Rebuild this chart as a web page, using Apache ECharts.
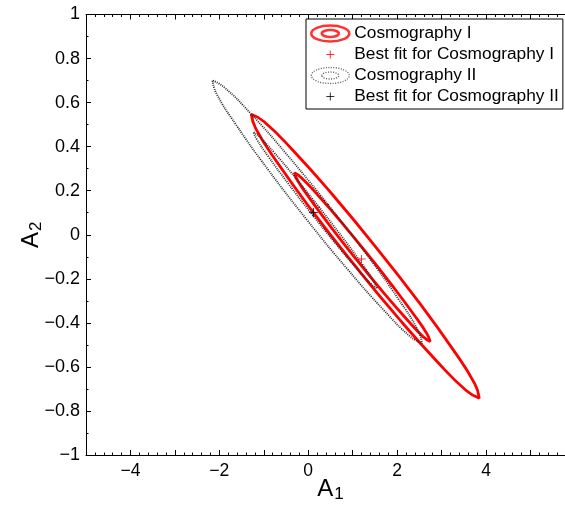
<!DOCTYPE html>
<html><head><meta charset="utf-8">
<script src="https://cdn.jsdelivr.net/npm/echarts@6/dist/echarts.min.js"></script>
<style>html,body{margin:0;padding:0;background:#fff}#c{width:565px;height:510px}</style>
</head><body><div id="c"></div>
<script>
// ---- tick labels ----
const xTickValues = [-4, -2, 0, 2, 4];
const xTickLabels = ['\u22124', '\u22122', '0', '2', '4'];
const yTickValues = [-1, -0.8, -0.6, -0.4, -0.2, 0, 0.2, 0.4, 0.6, 0.8, 1];
const yTickLabels = ['\u22121', '\u22120.8', '\u22120.6', '\u22120.4', '\u22120.2', '0', '0.2', '0.4', '0.6', '0.8', '1'];

// ---- contours [A1, A2] ----
const cosmoIOuter = [
  [1.530, -0.058], [0.529, 0.186], [-0.356, 0.386], [-0.992, 0.513], [-1.281, 0.547],
  [-1.180, 0.482], [-0.703, 0.330], [0.075, 0.112], [1.039, -0.137], [2.039, -0.381],
  [2.924, -0.581], [3.560, -0.708], [3.849, -0.742], [3.748, -0.677], [3.271, -0.525],
  [2.493, -0.307], [1.530, -0.058]
];
const cosmoIInner = [
  [1.322, -0.085], [0.729, 0.061], [0.211, 0.181], [-0.155, 0.259], [-0.312, 0.281],
  [-0.237, 0.245], [0.061, 0.157], [0.533, 0.029], [1.110, -0.119], [1.703, -0.265],
  [2.221, -0.385], [2.587, -0.463], [2.744, -0.485], [2.669, -0.449], [2.371, -0.361],
  [1.899, -0.233], [1.322, -0.085]
];
const cosmoIIOuter = [
  [0.433, 0.140], [-0.488, 0.366], [-1.302, 0.552], [-1.888, 0.669], [-2.155, 0.701],
  [-2.064, 0.641], [-1.626, 0.500], [-0.912, 0.298], [-0.027, 0.067], [0.894, -0.159],
  [1.708, -0.344], [2.294, -0.462], [2.561, -0.493], [2.470, -0.434], [2.032, -0.293],
  [1.318, -0.091], [0.433, 0.140]
];
const cosmoIIInner = [
  [0.246, 0.125], [-0.293, 0.260], [-0.763, 0.372], [-1.092, 0.444], [-1.232, 0.466],
  [-1.160, 0.434], [-0.887, 0.352], [-0.455, 0.234], [0.070, 0.097], [0.609, -0.038],
  [1.079, -0.150], [1.408, -0.222], [1.548, -0.244], [1.476, -0.212], [1.203, -0.130],
  [0.771, -0.012], [0.246, 0.125]
];
const bestFitI = [[1.199, -0.110]];
const bestFitII = [[0.115, 0.101]];

const names = ['Cosmography I', 'Best fit for Cosmography I', 'Cosmography II', 'Best fit for Cosmography II'];

// ---- styling ----
const FONT = "'Liberation Sans', Arial, Helvetica, sans-serif";
const RED = '#ff0000';
const GRAY = '#2a2a2a';
const plusPath = 'path://M0,5L10,5M5,0L5,10';
const legendPlus = 'path://M0,0L0,0M38,16L38,16M15,8L23,8M19,4L19,12';
const legendEllipses = 'path://M0,8A19,8 0 1 1 38,8A19,8 0 1 1 0,8ZM10.5,8A8.5,3.5 0 1 1 27.5,8A8.5,3.5 0 1 1 10.5,8Z';

const xMap = {}; xTickValues.forEach((v, i) => { xMap[v] = xTickLabels[i]; });
const yMap = {}; yTickValues.forEach((v, i) => { yMap[v] = yTickLabels[i]; });

const nameRich = {
  a: { fontSize: 24, fontFamily: FONT, color: '#000', verticalAlign: 'top', lineHeight: 26 },
  s: { fontSize: 17, fontFamily: FONT, color: '#000', verticalAlign: 'bottom', lineHeight: 17, padding: [16, 0, 0, 1] }
};

function xAxisCfg(pos, withLabels) {
  return {
    type: 'value', min: -5, max: 6, interval: 1, position: pos,
    axisLine: { show: true, onZero: false, lineStyle: { color: '#000', width: 1 } },
    axisTick: { show: true, inside: true, length: 5, lineStyle: { color: '#000', width: 1 } },
    minorTick: { show: true, splitNumber: 5, length: 2.5, lineStyle: { color: '#000', width: 1 } },
    splitLine: { show: false }, minorSplitLine: { show: false },
    axisLabel: {
      show: withLabels, color: '#000', fontSize: 17.5, fontFamily: FONT, margin: 7,
      formatter: v => { const k = Math.round(v * 1000) / 1000; return xMap[k] !== undefined ? xMap[k] : ''; }
    },
    name: withLabels ? '{a|A}{s|1}' : '', nameLocation: 'middle', nameGap: 22, nameMoveOverlap: false,
    nameTextStyle: { rich: nameRich }
  };
}

const chart = echarts.init(document.getElementById('c'), null, { renderer: 'canvas' });
chart.setOption({
  animation: false,
  backgroundColor: '#fff',
  grid: { left: 86, top: 14.5, width: 488.9, height: 440.5, containLabel: false, outerBoundsMode: 'none' },
  xAxis: [xAxisCfg('bottom', true), xAxisCfg('top', false)],
  yAxis: [{
    type: 'value', min: -1, max: 1, interval: 0.2, position: 'left',
    axisLine: { show: true, onZero: false, lineStyle: { color: '#000', width: 1 } },
    axisTick: { show: true, inside: true, length: 5, lineStyle: { color: '#000', width: 1 } },
    minorTick: { show: true, splitNumber: 2, length: 2.5, lineStyle: { color: '#000', width: 1 } },
    splitLine: { show: false }, minorSplitLine: { show: false },
    axisLabel: {
      color: '#000', fontSize: 18, fontFamily: FONT, margin: 6,
      formatter: v => { const k = Math.round(v * 10) / 10; return yMap[k] !== undefined ? yMap[k] : ''; }
    },
    name: '{a|A}{s|2}', nameLocation: 'middle', nameRotate: 90, nameGap: 41, nameMoveOverlap: false,
    nameTextStyle: { rich: nameRich }
  }],
  legend: {
    orient: 'vertical', left: 306, top: 19, padding: [4, 4, 2, 4], itemGap: 0,
    itemWidth: 38, itemHeight: 16, backgroundColor: '#fff', borderColor: '#000', borderWidth: 1, borderRadius: 0,
    selectedMode: false, symbolKeepAspect: true,
    textStyle: { fontSize: 17.3, fontFamily: FONT, color: '#000', lineHeight: 21 },
    data: [
      { name: names[0], icon: legendEllipses, itemStyle: { color: 'transparent', borderColor: RED, borderWidth: 2.6 } },
      { name: names[1], icon: legendPlus, itemStyle: { color: 'transparent', borderColor: RED, borderWidth: 1 } },
      { name: names[2], icon: legendEllipses, itemStyle: { color: 'transparent', borderColor: GRAY, borderWidth: 1.3, borderType: [1, 1.5] } },
      { name: names[3], icon: legendPlus, itemStyle: { color: 'transparent', borderColor: '#000', borderWidth: 1 } }
    ]
  },
  series: [
    { type: 'scatter', name: names[0], data: [], itemStyle: { color: 'transparent', borderColor: RED, borderWidth: 2.6 } },
    { type: 'scatter', name: names[2], data: [], itemStyle: { color: 'transparent', borderColor: GRAY, borderWidth: 1.3, borderType: [1, 1.5] } },
    { type: 'line', name: names[0], data: cosmoIOuter, smooth: true, showSymbol: false, silent: true,
      lineStyle: { color: RED, width: 2.8 }, z: 2 },
    { type: 'line', name: names[0], data: cosmoIInner, smooth: true, showSymbol: false, silent: true,
      lineStyle: { color: RED, width: 2.8 }, z: 2 },
    { type: 'line', name: names[2], data: cosmoIIOuter, smooth: true, showSymbol: false, silent: true,
      lineStyle: { color: GRAY, width: 1.8, type: [1, 1.1] }, z: 3 },
    { type: 'line', name: names[2], data: cosmoIIInner, smooth: true, showSymbol: false, silent: true,
      lineStyle: { color: GRAY, width: 1.8, type: [1, 1.1] }, z: 3 },
    { type: 'scatter', name: names[1], data: bestFitI, symbol: plusPath, symbolSize: 8, silent: true,
      itemStyle: { color: 'transparent', borderColor: RED, borderWidth: 1 }, z: 4 },
    { type: 'scatter', name: names[3], data: bestFitII, symbol: plusPath, symbolSize: 9, silent: true,
      itemStyle: { color: 'transparent', borderColor: '#000', borderWidth: 1.2 }, z: 4 }
  ]
});
</script>
</body></html>
